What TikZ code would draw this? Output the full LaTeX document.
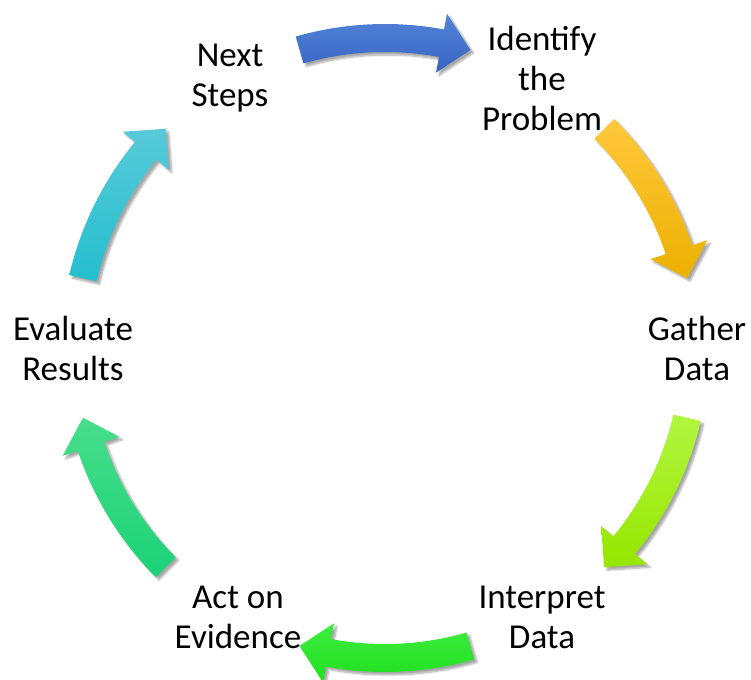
\documentclass[tikz,border=0pt]{standalone}
\usepackage{fontspec}
\setmainfont{Carlito}
\usetikzlibrary{shadows.blur}

\definecolor{blueA}{RGB}{82,132,216}
\definecolor{blueB}{RGB}{56,100,194}
\definecolor{yellowA}{RGB}{255,200,60}
\definecolor{yellowB}{RGB}{236,176,0}
\definecolor{limeA}{RGB}{178,246,64}
\definecolor{limeB}{RGB}{150,230,0}
\definecolor{greenA}{RGB}{64,236,64}
\definecolor{greenB}{RGB}{30,224,30}
\definecolor{emeraldA}{RGB}{72,222,140}
\definecolor{emeraldB}{RGB}{26,210,118}
\definecolor{cyanA}{RGB}{88,202,216}
\definecolor{cyanB}{RGB}{36,190,206}

\tikzset{
  stage/.style={align=center, font=\fontsize{35}{40}\selectfont},
  arrowshadow/.style={blur shadow={shadow xshift=3pt, shadow yshift=-3pt,
      shadow blur steps=6, shadow opacity=35}}
}

% curved block arrow on the cycle, clockwise around angle #1
\newcommand{\cyclearrow}[3]{%
  \shade[top color=#2, bottom color=#3, arrowshadow]
    ({#1+16}:324) arc[start angle={#1+16}, end angle={#1-10.5}, radius=324]
    -- ({#1-10.5}:340) -- ({#1-16}:310) -- ({#1-10.5}:280)
    -- ({#1-10.5}:296) arc[start angle={#1-10.5}, end angle={#1+16}, radius=296]
    -- cycle;}

\begin{document}
\begin{tikzpicture}[x=1pt,y=1pt]
  \useasboundingbox (-385,-331) rectangle (366,348);
  % the six steps
  \node[stage] (next) at (-155,270) {Next\\Steps};
  \node[stage] (identify) at (157,270) {Identify\\the\\Problem};
  \node[stage] (gather) at (312,0) {Gather\\Data};
  \node[stage] (interpret) at (157,-269) {Interpret\\Data};
  \node[stage] (act) at (-147,-269) {Act on\\Evidence};
  \node[stage] (evaluate) at (-312,0) {Evaluate\\Results};
  % arrows between them
  \cyclearrow{90}{blueA}{blueB}
  \cyclearrow{29}{yellowA}{yellowB}
  \cyclearrow{-29}{limeA}{limeB}
  \cyclearrow{-90}{greenA}{greenB}
  \cyclearrow{-151}{emeraldA}{emeraldB}
  \cyclearrow{151}{cyanA}{cyanB}
\end{tikzpicture}
\end{document}
